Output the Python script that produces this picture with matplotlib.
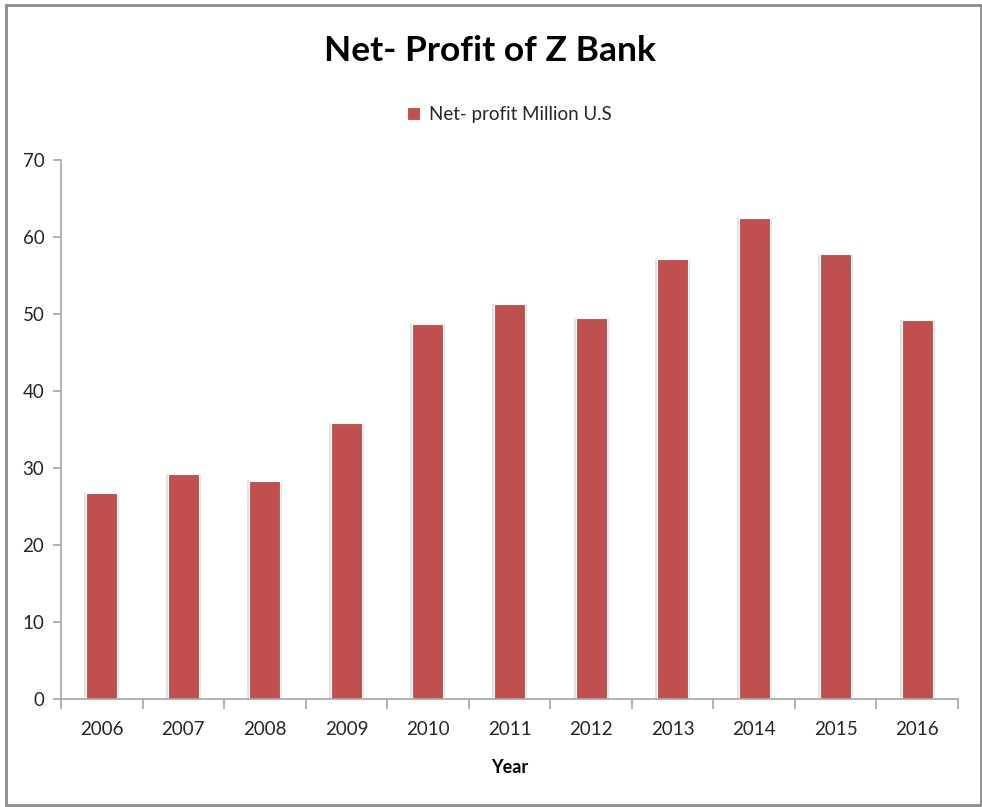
import matplotlib
matplotlib.use('Agg')
import matplotlib.pyplot as plt
from matplotlib.patches import Rectangle
import numpy as np

years = ['2006', '2007', '2008', '2009', '2010', '2011',
         '2012', '2013', '2014', '2015', '2016']
net_profit = [26.8, 29.2, 28.3, 35.8, 48.7, 51.3, 49.5, 57.2, 62.5, 57.8, 49.2]
y_ticks = [0, 10, 20, 30, 40, 50, 60, 70]

plt.rcParams['font.family'] = ['Lato', 'DejaVu Sans']

fig = plt.figure(figsize=(9.82, 8.07), dpi=100)
ax = fig.add_axes([0.0621, 0.1338, 0.9135, 0.668])

x = np.arange(len(years))
bar_color = '#C0504D'

# soft grey halo behind each bar, then the bar itself
ax.bar(x, net_profit, width=0.43, color='#e3e3e3', zorder=1)
ax.bar(x, net_profit, width=0.38, color=bar_color, edgecolor='white',
       linewidth=0.8, zorder=2, label='Net- profit Million U.S')

ax.set_xlim(-0.5, len(years) - 0.5)
ax.set_ylim(0, 70)
ax.set_yticks(y_ticks)
ax.set_xticks(x)
ax.set_xticklabels(years)
ax.set_xticks(np.arange(-0.5, len(years)), minor=True)

axis_grey = '#a6a6a6'
for side in ['top', 'right']:
    ax.spines[side].set_visible(False)
ax.spines['left'].set_color(axis_grey)
ax.spines['bottom'].set_color(axis_grey)
ax.spines['left'].set_linewidth(1.2)
ax.spines['bottom'].set_linewidth(1.2)

ax.tick_params(axis='x', which='major', length=0, pad=16, labelsize=13.5, labelcolor='#262626')
ax.tick_params(axis='x', which='minor', length=7, width=1.2, color=axis_grey)
ax.tick_params(axis='y', length=6, width=1.2, color=axis_grey, pad=6,
               labelsize=13.5, labelcolor='#262626')

ax.set_xlabel('Year', fontsize=13, fontweight='bold', labelpad=15)

fig.text(0.4985, 0.937, 'Net- Profit of Z Bank', ha='center', va='center',
         fontsize=25.5, fontweight='bold', color='black')

ax.legend(loc='center', bbox_to_anchor=(0.5, 1.085), frameon=False,
          fontsize=13.5, handlelength=0.7, handleheight=0.7, handletextpad=0.5,
          labelcolor='#262626')

# outer chart frame
fig.add_artist(Rectangle((0.0066, 0.0025), 0.992, 0.9915, transform=fig.transFigure,
                         fill=False, edgecolor='#8c8c8c', linewidth=2))

fig.savefig('out.png', dpi=100, facecolor='white')
